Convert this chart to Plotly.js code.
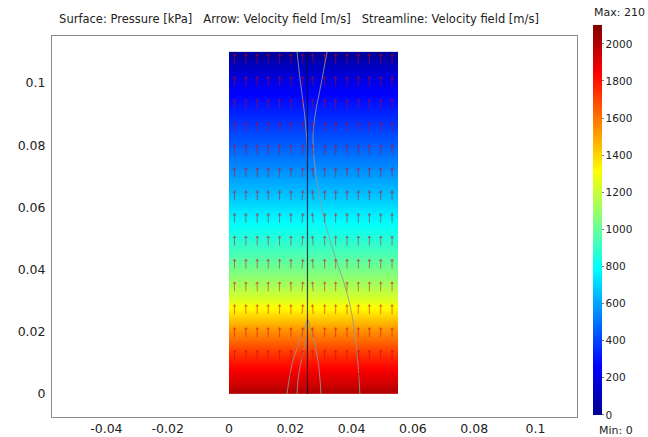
<!DOCTYPE html>
<html><head><meta charset="utf-8">
<script src="https://cdn.plot.ly/plotly-3.0.1.min.js"></script>
<style>html,body{margin:0;padding:0;background:#fff;} #chart{width:648px;height:437px;}</style>
</head><body><div id="chart"></div>
<script>
// ---------- data ----------
// domain extents (m)
const domainX = [0, 0.055];
// pressure surface: cell edges along height (m) and pressure (kPa) per cell
const pressureYEdges = [0, 0.0025, 0.0075, 0.0125, 0.0175, 0.0225, 0.0275, 0.0325, 0.0375, 0.0425, 0.0475, 0.0525,
  0.0575, 0.0625, 0.0675, 0.0725, 0.0775, 0.0825, 0.0875, 0.0925, 0.0975, 0.1025, 0.1075, 0.11];
const pressureKPa = [1990, 1900, 1800, 1680, 1550, 1400, 1250, 1130, 1030, 940, 860, 790,
  720, 650, 585, 520, 455, 395, 335, 280, 210, 120, 30];
// arrow grid (m) and velocity components (m/s)
const arrowX = [0.0018, 0.0055, 0.0092, 0.0128, 0.0165, 0.0202, 0.0238, 0.0275, 0.0312, 0.0348, 0.0385, 0.0422, 0.0458, 0.0495, 0.0532];
const arrowY = [0.0037, 0.0110, 0.0183, 0.0257, 0.0330, 0.0403, 0.0477, 0.0550, 0.0623, 0.0697, 0.0770, 0.0843, 0.0917, 0.0990, 0.1063];
const velU = [0, 0, 0, 0, 0, 0, 0.1, -0.1, 0, 0, 0, 0, 0, 0, 0];
const velV = [1, 1, 1, 1, 1, 1, 1, 1, 1, 1, 1, 1, 1, 1, 1];
// streamlines (m)
const streamAX = [0.0222, 0.0232, 0.0245, 0.0254, 0.0256];
const streamAY = [0.11, 0.101, 0.0913, 0.0817, 0.0736];
const streamBX = [0.032, 0.030, 0.0281, 0.0274, 0.0284, 0.0307, 0.0339, 0.0372, 0.0395, 0.0411, 0.0421, 0.0427];
const streamBY = [0.11, 0.0994, 0.0897, 0.0817, 0.0704, 0.0576, 0.0463, 0.0367, 0.0286, 0.019, 0.0093, 0];
const fan1X = [0.0256, 0.0232, 0.0209, 0.0196, 0.0189];
const fan1Y = [0.0238, 0.0174, 0.0109, 0.0045, 0];
const fan2X = [0.0256, 0.0240, 0.0227, 0.0222];
const fan2Y = [0.019, 0.0125, 0.0061, 0];
const fan3X = [0.0258, 0.0277, 0.029, 0.0297, 0.030];
const fan3Y = [0.0238, 0.0174, 0.0109, 0.0045, 0];
const centerX = [0.0256, 0.0256];
const centerY = [0, 0.11];
// ticks
const xTicks = [-0.04, -0.02, 0, 0.02, 0.04, 0.06, 0.08, 0.1];
const xTickText = ['-0.04', '-0.02', '0', '0.02', '0.04', '0.06', '0.08', '0.1'];
const yTicks = [0, 0.02, 0.04, 0.06, 0.08, 0.1];
const yTickText = ['0', '0.02', '0.04', '0.06', '0.08', '0.1'];
const cbTicks = [0, 200, 400, 600, 800, 1000, 1200, 1400, 1600, 1800, 2000];
const cbTickText = ['0', '200', '400', '600', '800', '1000', '1200', '1400', '1600', '1800', '2000'];
const pMin = 0, pMax = 2100;
const titleText = 'Surface: Pressure [kPa]\u00a0\u00a0\u00a0Arrow: Velocity field [m/s]\u00a0\u00a0\u00a0Streamline: Velocity field [m/s]';

// ---------- layout geometry ----------
const W = 648, H = 437;
const M = {l: 52, r: 71, t: 36, b: 20};
const pw = W - M.l - M.r, ph = H - M.t - M.b;
const paperX = px => (px - M.l) / pw;
const paperY = py => (H - M.b - py) / ph;
const FONT = 'DejaVu Sans';

// pressure table
const zRows = pressureKPa.map(v => [v, v]);
const heat = {
  type: 'heatmap', x: [domainX[0], (domainX[0] + domainX[1]) / 2, domainX[1]], y: pressureYEdges, z: zRows,
  zmin: pMin - 2, zmax: pMax, zsmooth: 'best', hoverinfo: 'skip',
  colorscale: [[0, 'rgb(0,0,143)'], [0.125, 'rgb(0,0,255)'], [0.375, 'rgb(0,255,255)'],
               [0.625, 'rgb(255,255,0)'], [0.875, 'rgb(255,0,0)'], [1, 'rgb(128,0,0)']],
  colorbar: {
    xref: 'container', yref: 'container', x: 593 / W, xanchor: 'left', y: 1 - 29 / H, yanchor: 'top',
    lenmode: 'pixels', len: 390, thickness: 9, xpad: 0, ypad: 0, outlinewidth: 0,
    tickmode: 'array', tickvals: cbTicks, ticktext: cbTickText, ticks: 'outside', ticklen: 2, tickcolor: '#777',
    ticklabeloverflow: 'allow',
    tickfont: {family: FONT, size: 10.5, color: '#222'}
  }
};

const lineTrace = (xs, ys, color, width) => ({
  type: 'scatter', mode: 'lines', x: xs, y: ys, hoverinfo: 'skip', showlegend: false,
  line: {color: color, width: width, shape: 'spline'}
});

// arrows
const arrowLen = 0.0027;
const shaftX = [], shaftY = [], headX = [], headY = [];
arrowY.forEach((y0, j) => {
  arrowX.forEach((x0, i) => {
    const x1 = x0 + velU[i] * velV[j] * arrowLen, y1 = y0 + velV[j] * arrowLen;
    shaftX.push(x0, x1, null); shaftY.push(y0, y1, null);
    headX.push(x1); headY.push(y1);
  });
});
const arrowColor = 'rgba(215,0,10,0.5)';
const shafts = {type: 'scatter', mode: 'lines', x: shaftX, y: shaftY, hoverinfo: 'skip', showlegend: false,
  line: {color: arrowColor, width: 1}};
const heads = {type: 'scatter', mode: 'markers', x: headX, y: headY, hoverinfo: 'skip', showlegend: false,
  marker: {symbol: 'triangle-up', size: 3.5, color: arrowColor, line: {width: 0}}};

const grey = 'rgba(150,150,150,0.85)';
const data = [
  heat,
  lineTrace(streamAX, streamAY, grey, 1),
  lineTrace(streamBX, streamBY, grey, 1),
  lineTrace(fan1X, fan1Y, grey, 1),
  lineTrace(fan2X, fan2Y, grey, 1),
  lineTrace(fan3X, fan3Y, grey, 1),
  lineTrace(centerX, centerY, 'rgba(10,10,40,0.75)', 1.2),
  shafts, heads
];

const axisCommon = {
  showgrid: false, zeroline: false, showline: true, mirror: true, linecolor: '#8c8c8c', linewidth: 1,
  ticks: '', tickfont: {family: FONT, size: 12.5, color: '#222'}
};

const layout = {
  width: W, height: H, margin: M, paper_bgcolor: '#fff', plot_bgcolor: '#fff', showlegend: false,
  font: {family: FONT},
  title: {text: titleText, xref: 'container', yref: 'container', x: 299 / W, xanchor: 'center',
          y: 1 - 19 / H, yanchor: 'middle', font: {family: FONT, size: 11.5, color: '#222'}},
  xaxis: Object.assign({}, axisCommon, {range: [-0.05775, 0.11354], tickvals: xTicks, ticktext: xTickText}),
  yaxis: Object.assign({}, axisCommon, {range: [-0.0074, 0.1151], tickvals: yTicks, ticktext: yTickText,
          ticks: 'outside', ticklen: 3, tickcolor: 'rgba(0,0,0,0)'}),
  annotations: [
    {xref: 'paper', yref: 'paper', x: paperX(647), y: paperY(13), xanchor: 'right', yanchor: 'middle',
     text: 'Max: 210', showarrow: false, font: {family: FONT, size: 11, color: '#222'}},
    {xref: 'paper', yref: 'paper', x: paperX(616), y: paperY(430), xanchor: 'center', yanchor: 'middle',
     text: 'Min: 0', showarrow: false, font: {family: FONT, size: 11, color: '#222'}}
  ]
};

Plotly.newPlot('chart', data, layout, {staticPlot: true, displayModeBar: false});
</script></body></html>
